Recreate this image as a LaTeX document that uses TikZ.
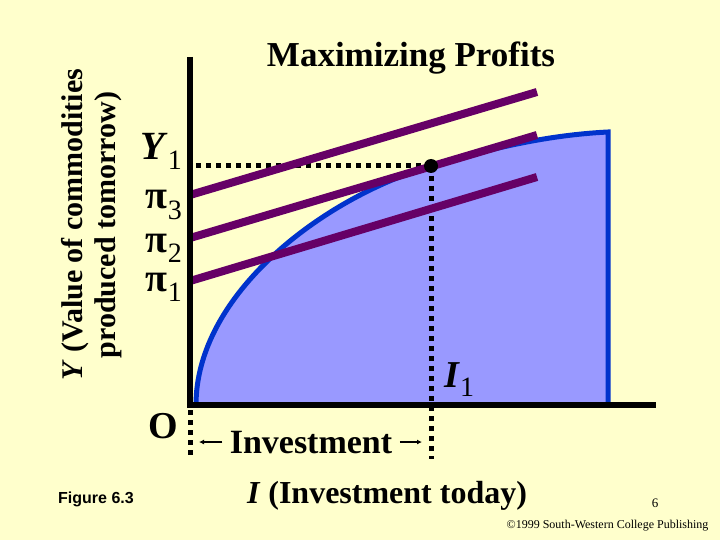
\documentclass[tikz,border=0pt]{standalone}
\usepackage{fontspec}
\setmainfont{Liberation Serif}
\newfontfamily\figfont{Liberation Sans}
\usetikzlibrary{arrows.meta, positioning, calc}
\definecolor{slidebg}{HTML}{FFFFCC}
\definecolor{areafill}{HTML}{9999FF}
\definecolor{curveblue}{HTML}{0033CC}
\definecolor{profitpurple}{HTML}{660066}
\newcommand{\lowidx}[1]{\raisebox{-0.25em}{\fontsize{28}{28}\selectfont\mdseries #1}}

\begin{document}
\begin{tikzpicture}[x=1pt, y=-1pt, >=Latex,
    axislabel/.style={font=\bfseries\fontsize{40}{40}\selectfont, anchor=base east, inner sep=0pt},
    dots/.style={line width=5pt, dash pattern=on 5pt off 5pt},
    isoprofit/.style={line width=8pt, profitpurple}]
        \fill[slidebg] (0,0) rectangle (720,540);

        \coordinate (origin) at (190,405);
        \coordinate (ytop) at (190,57);
        \coordinate (xend) at (656,405);
        \coordinate (opt) at (431,166);
        \coordinate (yone) at (195,166);
        \coordinate (obase) at (190,459);
        \coordinate (ibase) at (431,459);
        \coordinate (cstart) at (196,405);
        \coordinate (ccorner) at (608,132);
        \coordinate (cfoot) at (608,405);

        % production set
        \fill[areafill] (cstart) .. controls (196,295) and (321,198.7) .. (opt)
          .. controls (491,148.2) and (548,135) .. (ccorner) -- (cfoot) -- cycle;
        \draw[curveblue, line width=5pt] (cstart) .. controls (196,295) and (321,198.7) .. (opt)
          .. controls (491,148.2) and (548,135) .. (ccorner) -- (cfoot);

        \draw[dots] (opt) -- (yone);
        \draw[dots] (opt) -- (ibase);
        \draw[dots] ([yshift=5pt]origin) -- (obase);

        % isoprofit lines
        \foreach \ya/\yb [count=\k] in {281/177, 238/135, 195/92} {
          \coordinate (p\k a) at (190,\ya);
          \coordinate (p\k b) at (537,\yb);
          \draw[isoprofit] (p\k a) -- (p\k b);
        }

        \draw[line width=6pt] (ytop) -- (origin) -- (xend);
        \fill (opt) circle (7pt);

        \node[axislabel] (ylab) at (182,160) {\textit{Y}\lowidx{1}};
        \node[axislabel] (pithree) at (182,209) {π\lowidx{3}};
        \node[axislabel] (pitwo) at (182,252) {π\lowidx{2}};
        \node[axislabel] (pione) at (182,291) {π\lowidx{1}};
        \node[axislabel, font=\bfseries\fontsize{38}{38}\selectfont] (olab) at (178,438) {O};
        \node[font=\bfseries\fontsize{38}{38}\selectfont, anchor=base west, inner sep=0pt]
          (ilab) at (444,387) {\textit{I}\lowidx{1}};

        \node[font=\bfseries\fontsize{35}{35}\selectfont, anchor=base] (title) at (411,67)
          {Maximizing Profits};
        \node[font=\bfseries\fontsize{34}{34}\selectfont, anchor=base] (inv) at (311,453)
          {Investment};
        \draw[-{Latex[length=5pt, width=5pt]}, line width=1.5pt]
          ([xshift=-4pt]inv.west) -- ([xshift=9pt]obase |- inv.west);
        \draw[-{Latex[length=5pt, width=5pt]}, line width=1.5pt]
          ([xshift=4pt]inv.east) -- ([xshift=-9pt]ibase |- inv.east);

        \node[font=\bfseries\fontsize{32}{32}\selectfont, anchor=base] (xlab) at (387,503)
          {\textit{I} (Investment today)};
        \node[font=\bfseries\fontsize{30}{33}\selectfont, rotate=90, align=center] (yaxislab)
          at (92,225) {\textit{Y} (Value of commodities\\produced tomorrow)};
        \node[font=\figfont\bfseries\fontsize{16}{16}\selectfont, anchor=base] (fig) at (96,503)
          {Figure 6.3};
        \node[font=\fontsize{13}{13}\selectfont, anchor=base] (page) at (655,507) {6};
        \node[font=\fontsize{12}{12}\selectfont, anchor=base east] (copy) at (712,528)
          {©1999 South-Western College Publishing};
      \end{tikzpicture}
\end{document}
